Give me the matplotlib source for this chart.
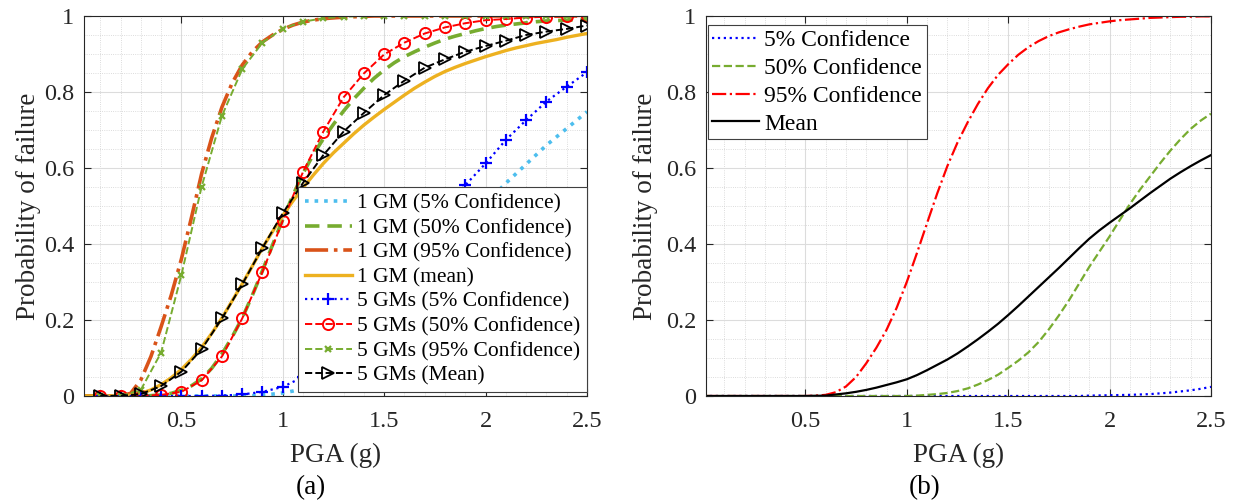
import numpy as np
import matplotlib
matplotlib.use('Agg')
import matplotlib.pyplot as plt
from matplotlib.ticker import MultipleLocator, FixedLocator

# ---- data ----
# (a) single ground motion curves, PGA step 0.05 g
pga_1gm = np.round(np.arange(0.0, 2.501, 0.05), 2)
gm1_p05 = [0]*17 + [0.001, 0.003, 0.005, 0.008, 0.013, 0.02, 0.03, 0.042, 0.057, 0.075,
                    0.096, 0.12, 0.146, 0.175, 0.207, 0.24, 0.275, 0.31, 0.345, 0.38,
                    0.413, 0.445, 0.475, 0.505, 0.533, 0.56, 0.585, 0.61, 0.635, 0.66,
                    0.682, 0.704, 0.726, 0.748]
gm1_p50 = [0]*7 + [0.001, 0.003, 0.007, 0.015, 0.027, 0.045, 0.073, 0.11, 0.155, 0.205,
                   0.265, 0.33, 0.398, 0.465, 0.528, 0.586, 0.635, 0.677, 0.715, 0.75,
                   0.782, 0.81, 0.836, 0.858, 0.877, 0.893, 0.906, 0.918, 0.929, 0.939,
                   0.947, 0.954, 0.961, 0.967, 0.972, 0.976, 0.979, 0.982, 0.985, 0.987,
                   0.988, 0.989, 0.990, 0.991]
gm1_p95 = [0]*5 + [0.007, 0.042, 0.104, 0.182, 0.265, 0.36, 0.47, 0.585, 0.68, 0.76,
                   0.823, 0.871, 0.906, 0.932, 0.95, 0.965, 0.976, 0.984, 0.989, 0.993,
                   0.995, 0.997, 0.998, 0.999] + [1.0]*22
gm1_mean = [0]*5 + [0.002, 0.007, 0.016, 0.03, 0.048, 0.07, 0.097, 0.128, 0.165, 0.205,
                    0.25, 0.295, 0.342, 0.39, 0.433, 0.475, 0.513, 0.548, 0.581, 0.612,
                    0.64, 0.665, 0.69, 0.713, 0.734, 0.754, 0.773, 0.792, 0.81, 0.826,
                    0.841, 0.854, 0.865, 0.875, 0.884, 0.893, 0.901, 0.909, 0.916, 0.922,
                    0.928, 0.933, 0.938, 0.944, 0.949, 0.954]

# (a) five ground motion curves, PGA step 0.1 g (one marker per point)
pga_5gm = np.round(np.arange(0.1, 2.501, 0.1), 1)
gm5_p05 = [0, 0, 0, 0, 0, 0, 0.001, 0.004, 0.011, 0.024, 0.05, 0.09, 0.14, 0.2, 0.27,
           0.345, 0.42, 0.49, 0.555, 0.612, 0.674, 0.726, 0.775, 0.814, 0.852]
gm5_p50 = [0, 0, 0, 0.003, 0.011, 0.041, 0.104, 0.204, 0.327, 0.461, 0.59, 0.696, 0.786,
           0.849, 0.899, 0.93, 0.954, 0.97, 0.981, 0.989, 0.992, 0.996, 0.998, 0.999, 1.0]
gm5_p95 = [0, 0, 0.016, 0.114, 0.318, 0.551, 0.737, 0.86, 0.93, 0.967, 0.985, 0.994,
           0.998, 1, 1, 1, 1, 1, 1, 1, 1, 1, 1, 1, 1]
gm5_mean = [0, 0, 0.005, 0.026, 0.064, 0.123, 0.204, 0.294, 0.39, 0.481, 0.561, 0.634,
            0.696, 0.745, 0.792, 0.83, 0.864, 0.886, 0.906, 0.921, 0.935, 0.95, 0.959,
            0.966, 0.975]

# (b) PGA step 0.05 g
pga_b = np.round(np.arange(0.0, 2.501, 0.05), 2)
b_p05 = [0]*38 + [0.001, 0.0015, 0.002, 0.0025, 0.003, 0.004, 0.005, 0.007, 0.009,
                  0.012, 0.015, 0.019, 0.024]
b_p50 = [0]*21 + [0.001, 0.003, 0.005, 0.008, 0.013, 0.02, 0.03, 0.042, 0.056, 0.074,
                  0.093, 0.115, 0.142, 0.175, 0.212, 0.252, 0.296, 0.34, 0.38, 0.42,
                  0.463, 0.505, 0.543, 0.578, 0.613, 0.646, 0.676, 0.703, 0.725, 0.743]
b_p95 = [0]*11 + [0.001, 0.003, 0.01, 0.025, 0.05, 0.086, 0.127, 0.174, 0.232, 0.30,
                  0.376, 0.455, 0.533, 0.605, 0.667, 0.72, 0.768, 0.81, 0.845, 0.873,
                  0.898, 0.918, 0.934, 0.947, 0.957, 0.965, 0.972, 0.978, 0.982, 0.986,
                  0.989, 0.991, 0.993, 0.995, 0.996, 0.997, 0.998, 0.998, 0.999, 0.999]
b_mean = [0]*11 + [0.0005, 0.001, 0.004, 0.007, 0.011, 0.016, 0.022, 0.029, 0.036, 0.044,
                   0.055, 0.068, 0.082, 0.096, 0.112, 0.13, 0.149, 0.169, 0.19, 0.213,
                   0.237, 0.262, 0.287, 0.312, 0.337, 0.363, 0.389, 0.414, 0.436, 0.456,
                   0.475, 0.494, 0.514, 0.534, 0.553, 0.572, 0.589, 0.605, 0.62, 0.634]

x_ticks = [0.5, 1, 1.5, 2, 2.5]
y_ticks = [0, 0.2, 0.4, 0.6, 0.8, 1]
y_ticklabels = ['0', '0.2', '0.4', '0.6', '0.8', '1']


def style_axes(ax, xmin):
    # matlab-like box, inward ticks, major + minor grid
    ax.set_xlim(xmin, 2.5)
    ax.set_ylim(0, 1)
    ax.xaxis.set_major_locator(FixedLocator(x_ticks))
    ax.set_xticklabels(['0.5', '1', '1.5', '2', '2.5'])
    ax.yaxis.set_major_locator(FixedLocator(y_ticks))
    ax.set_yticklabels(y_ticklabels)
    ax.xaxis.set_minor_locator(MultipleLocator(0.1))
    ax.yaxis.set_minor_locator(MultipleLocator(0.05))
    ax.tick_params(which='major', direction='in', length=5, width=0.8,
                   top=True, right=True, labelsize=17.5, colors='#262626', pad=7)
    ax.tick_params(axis='x', which='major', pad=10.5)
    ax.tick_params(which='minor', length=0, top=True, right=True)
    ax.grid(which='major', color='#dcdcdc', lw=0.8, ls='-')
    ax.grid(which='minor', color='#d0d0d0', lw=0.6, ls=':')
    ax.set_axisbelow(True)
    for sp in ax.spines.values():
        sp.set_color('#262626')
        sp.set_linewidth(0.8)
    ax.set_xlabel('PGA (g)', fontsize=19.5, color='#262626', labelpad=8)
    ax.set_ylabel('Probability of failure', fontsize=19.5, color='#262626')


def main():
    plt.rcParams['font.family'] = ['Liberation Serif', 'DejaVu Serif']

    fig = plt.figure(figsize=(12.37, 5.04), dpi=100)
    ax1 = fig.add_axes([84/1237, 108/504, 503/1237, 380/504])
    ax2 = fig.add_axes([706/1237, 108/504, 505/1237, 380/504])

    # ---- (a) ----
    ax1.plot(pga_1gm, gm1_p05, ':', color='#4DBEEE', lw=2.6, label='1 GM (5% Confidence)')
    ax1.plot(pga_1gm, gm1_p50, '--', color='#77AC30', lw=2.6, dashes=(4, 2.2),
             label='1 GM (50% Confidence)')
    ax1.plot(pga_1gm, gm1_p95, '-.', color='#D95319', lw=2.6, label='1 GM (95% Confidence)')
    ax1.plot(pga_1gm, gm1_mean, '-', color='#EDB120', lw=2.4, label='1 GM (mean)')
    ax1.plot(pga_5gm, gm5_p05, ':', color='blue', lw=1.6, marker='+', ms=8, mew=1.6,
             label='5 GMs (5% Confidence)')
    ax1.plot(pga_5gm, gm5_p50, '--', color='red', lw=1.4, marker='o', ms=8, mfc='none',
             mew=1.4, label='5 GMs (50% Confidence)')
    ax1.plot(pga_5gm, gm5_p95, '--', color='#77AC30', lw=1.4, marker='x', ms=5, mew=1.6,
             label='5 GMs (95% Confidence)')
    ax1.plot(pga_5gm, gm5_mean, '--', color='black', lw=1.4, marker='>', ms=8, mfc='none',
             mew=1.3, label='5 GMs (Mean)')
    style_axes(ax1, 0.02)
    ax1.yaxis.set_label_coords(-0.085, 0.5)
    leg1 = ax1.legend(loc='lower right', bbox_to_anchor=(1.0, 0.01), borderaxespad=0,
                      fontsize=15.5, numpoints=1, handlelength=2.2, handletextpad=0.25,
                      labelspacing=0.21, borderpad=0.3, fancybox=False, framealpha=1,
                      edgecolor='#404040')
    leg1.get_frame().set_linewidth(0.8)

    # ---- (b) ----
    ax2.plot(pga_b, b_p05, ':', color='blue', lw=1.6, label='5% Confidence')
    ax2.plot(pga_b, b_p50, '--', color='#77AC30', lw=1.6, label='50% Confidence')
    ax2.plot(pga_b, b_p95, '-.', color='red', lw=1.6, label='95% Confidence')
    ax2.plot(pga_b, b_mean, '-', color='black', lw=1.6, label='Mean')
    style_axes(ax2, 0.01)
    ax2.yaxis.set_label_coords(-0.095, 0.5)
    leg2 = ax2.legend(loc='upper left', bbox_to_anchor=(0.003, 0.977), borderaxespad=0,
                      fontsize=17, handlelength=2.0, handletextpad=0.2,
                      labelspacing=0.27, borderpad=0.2, fancybox=False, framealpha=1,
                      edgecolor='#404040')
    leg2.get_frame().set_linewidth(0.8)

    # panel captions
    fig.text(311/1237, 1 - 488/504, '(a)', ha='center', va='center', fontsize=19.5)
    fig.text(925/1237, 1 - 488/504, '(b)', ha='center', va='center', fontsize=19.5)

    fig.savefig('out.png', dpi=100)


if __name__ == "__main__":
    main()
